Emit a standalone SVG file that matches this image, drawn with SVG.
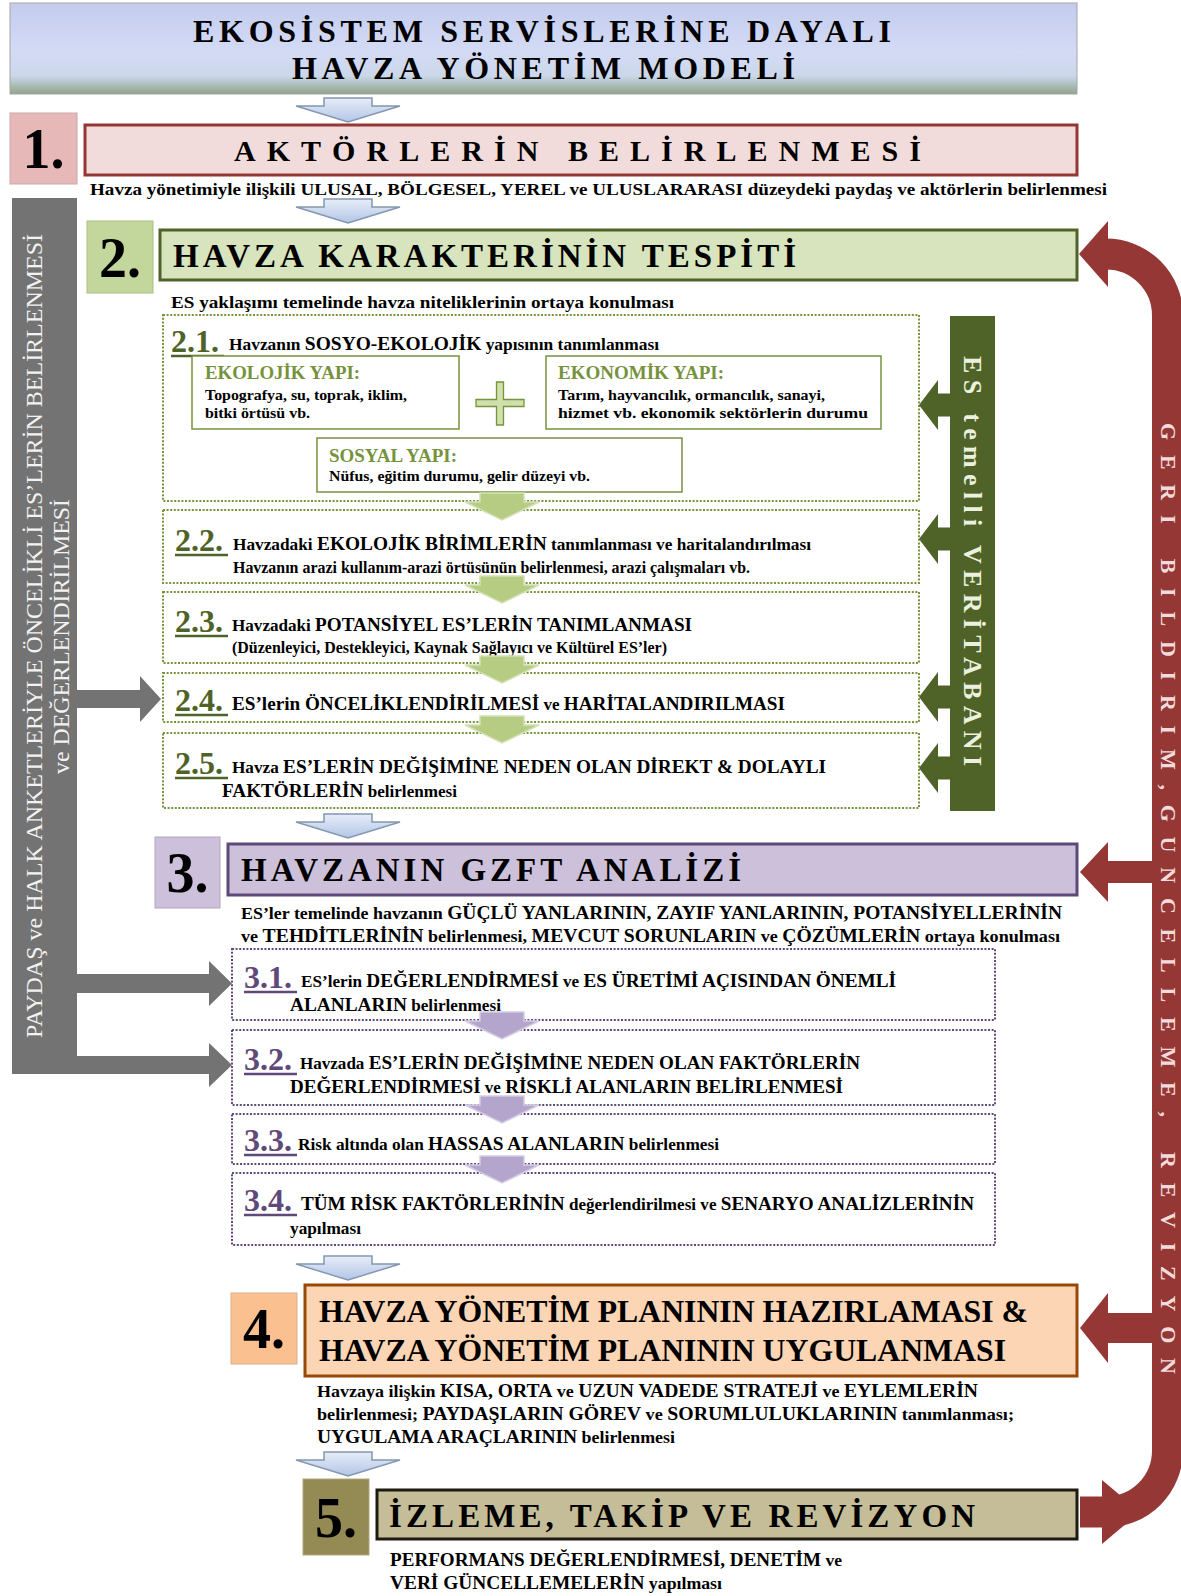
<svg xmlns="http://www.w3.org/2000/svg" width="1181" height="1596" viewBox="0 0 1181 1596">
<defs>
  <linearGradient id="gTitle" x1="0" y1="0" x2="0" y2="1">
    <stop offset="0" stop-color="#c4ccee"/>
    <stop offset="0.55" stop-color="#d3dbf5"/>
    <stop offset="0.8" stop-color="#ccd7ea"/>
    <stop offset="1" stop-color="#8ea58b"/>
  </linearGradient>
  <linearGradient id="gBlue" x1="0" y1="0" x2="0" y2="1">
    <stop offset="0" stop-color="#e6edf8"/>
    <stop offset="1" stop-color="#b3c5e6"/>
  </linearGradient>
  <path id="blueArrow" d="M-24,0 H24 V8 H52 L0,24 L-52,8 H-24 Z"/>
  <path id="smallArrow" d="M-22,0 H22 V9 H37 L0,27 L-37,9 H-22 Z"/>
  <path id="esArrow" d="M0,0 L19,-25 V-11.5 H31 V11.5 H19 V25 Z"/>
</defs>
<style>
  text { font-family: "Liberation Serif", "Times New Roman", serif; font-weight: bold; fill: #000; }
  .num { font-size: 56px; text-anchor: middle; }
  .head { font-size: 33px; }
  .desc { font-size: 17px; }
  .s { font-size: 16.5px; }
  .l { font-size: 18.5px; }
  .m { font-size: 17px; }
  .n2 { font-size: 32px; fill: #4f6228; }
  .n3 { font-size: 32px; fill: #5f497a; }
  .u2 { stroke: #4f6228; stroke-width: 2.5; }
  .u3 { stroke: #5f497a; stroke-width: 2.5; }
  .dot2 { fill: #fff; stroke: #77933c; stroke-width: 2; stroke-dasharray: 2 1.6; }
  .dot3 { fill: #fff; stroke: #604a7b; stroke-width: 2; stroke-dasharray: 2 1.6; }
  .sub { fill: #fff; stroke: #77933c; stroke-width: 1.5; }
  .subh { font-size: 18px; fill: #76923c; }
  .subt { font-size: 14.5px; }
  .blue { fill: url(#gBlue); stroke: #8497b0; stroke-width: 1.5; }
  .green { fill: #b5cc82; stroke: #d3e1b5; stroke-width: 1.5; }
  .purple { fill: #b3a5cb; stroke: #d6cde4; stroke-width: 1.5; }
  .gray { fill: #737373; }
  .red { fill: #953735; }
  .esar { fill: #4f6228; }
</style>

<!-- Title -->
<g id="title">
  <rect x="10" y="3" width="1067" height="91" fill="url(#gTitle)" stroke="#a5a5a5"/>
  <text x="193" y="42" font-size="32" textLength="698" lengthAdjust="spacing">EKOSİSTEM SERVİSLERİNE DAYALI</text>
  <text x="292" y="79" font-size="32" textLength="503" lengthAdjust="spacing">HAVZA YÖNETİM MODELİ</text>
</g>

<!-- Gray side bar -->
<g id="stakeholder-bar">
  <rect class="gray" x="12" y="198" width="65" height="876"/>
  <text transform="translate(41.5,1038) rotate(-90)" font-size="23" style="font-weight:normal;fill:#f2f2f2" textLength="804" lengthAdjust="spacingAndGlyphs">PAYDAŞ ve HALK ANKETLERİYLE ÖNCELİKLİ ES’LERİN BELİRLENMESİ</text>
  <text transform="translate(68.5,774) rotate(-90)" font-size="23" style="font-weight:normal;fill:#f2f2f2" textLength="275" lengthAdjust="spacingAndGlyphs">ve DEĞERLENDİRİLMESİ</text>
</g>

<!-- Step 1 -->
<g id="step1">
  <rect x="10" y="113" width="67" height="71" fill="#e6b9b8" stroke="#c9a9a8"/>
  <text class="num" x="43.5" y="168">1.</text>
  <rect x="85" y="125" width="992" height="50" fill="#f2dcdb" stroke="#953735" stroke-width="3"/>
  <text x="234" y="161" font-size="30" textLength="687" lengthAdjust="spacing">AKTÖRLERİN BELİRLENMESİ</text>
  <text class="desc" x="90" y="195" textLength="1017" lengthAdjust="spacingAndGlyphs">Havza yönetimiyle ilişkili ULUSAL, BÖLGESEL, YEREL ve ULUSLARARASI düzeydeki paydaş ve aktörlerin belirlenmesi</text>
</g>

<!-- Step 2 -->
<g id="step2">
  <rect x="87" y="221" width="66" height="72" fill="#c3d69b" stroke="#aabf80"/>
  <text class="num" x="120" y="277">2.</text>
  <rect x="160" y="230" width="917" height="50" fill="#d7e4bd" stroke="#4f6228" stroke-width="3"/>
  <text class="head" x="173" y="267" textLength="623" lengthAdjust="spacing">HAVZA KARAKTERİNİN TESPİTİ</text>
  <text class="desc" x="171" y="308" textLength="503" lengthAdjust="spacingAndGlyphs">ES yaklaşımı temelinde havza niteliklerinin ortaya konulması</text>
</g>

<g id="step2-1">
  <rect class="dot2" x="163" y="315" width="756" height="186"/>
  <text class="n2" x="171" y="352">2.1.</text>
  <line class="u2" x1="171" y1="356" x2="224" y2="356"/>
  <text x="229" y="350" textLength="430" lengthAdjust="spacingAndGlyphs"><tspan class="s">Havzanın </tspan><tspan class="l">SOSYO-EKOLOJİK</tspan><tspan class="s"> yapısının tanımlanması</tspan></text>
  <g id="ekolojik">
    <rect class="sub" x="192" y="356" width="267" height="73"/>
    <text class="subh" x="205" y="379" textLength="155" lengthAdjust="spacingAndGlyphs">EKOLOJİK YAPI:</text>
    <text class="subt" x="205" y="400" textLength="202" lengthAdjust="spacingAndGlyphs">Topografya, su, toprak, iklim,</text>
    <text class="subt" x="205" y="418" textLength="105" lengthAdjust="spacingAndGlyphs">bitki örtüsü vb.</text>
  </g>
  <path id="plus" d="M496.5,382 H503.5 V399.5 H524 V406.5 H503.5 V425 H496.5 V406.5 H476 V399.5 H496.5 Z" fill="#d0e0ac" stroke="#77933c" stroke-width="1.3"/>
  <g id="ekonomik">
    <rect class="sub" x="546" y="356" width="335" height="73"/>
    <text class="subh" x="558" y="379" textLength="166" lengthAdjust="spacingAndGlyphs">EKONOMİK YAPI:</text>
    <text class="subt" x="558" y="400" textLength="267" lengthAdjust="spacingAndGlyphs">Tarım, hayvancılık, ormancılık, sanayi,</text>
    <text class="subt" x="558" y="418" textLength="310" lengthAdjust="spacingAndGlyphs">hizmet  vb. ekonomik sektörlerin durumu</text>
  </g>
  <g id="sosyal">
    <rect class="sub" x="317" y="438" width="365" height="54"/>
    <text class="subh" x="329" y="462" textLength="128" lengthAdjust="spacingAndGlyphs">SOSYAL YAPI:</text>
    <text class="subt" x="329" y="481" textLength="261" lengthAdjust="spacingAndGlyphs">Nüfus, eğitim durumu, gelir düzeyi vb.</text>
  </g>
</g>

<g id="step2-2">
  <rect class="dot2" x="163" y="510" width="756" height="73"/>
  <text class="n2" x="175" y="551">2.2.</text>
  <line class="u2" x1="175" y1="555" x2="228" y2="555"/>
  <text x="233" y="550" textLength="578" lengthAdjust="spacingAndGlyphs"><tspan class="s">Havzadaki </tspan><tspan class="l">EKOLOJİK BİRİMLERİN</tspan><tspan class="s"> tanımlanması ve haritalandırılması</tspan></text>
  <text class="s" x="233" y="573" textLength="517" lengthAdjust="spacingAndGlyphs">Havzanın arazi kullanım-arazi örtüsünün belirlenmesi, arazi çalışmaları vb.</text>
</g>

<g id="step2-3">
  <rect class="dot2" x="163" y="592" width="756" height="71"/>
  <text class="n2" x="175" y="632">2.3.</text>
  <line class="u2" x1="175" y1="636" x2="228" y2="636"/>
  <text x="232" y="631" textLength="460" lengthAdjust="spacingAndGlyphs"><tspan class="s">Havzadaki </tspan><tspan class="l">POTANSİYEL ES’LERİN TANIMLANMASI</tspan></text>
  <text class="s" x="232" y="653" textLength="435" lengthAdjust="spacingAndGlyphs">(Düzenleyici, Destekleyici, Kaynak Sağlayıcı ve Kültürel ES’ler)</text>
</g>

<g id="step2-4">
  <rect class="dot2" x="163" y="673" width="756" height="49"/>
  <text class="n2" x="175" y="711">2.4.</text>
  <line class="u2" x1="175" y1="715" x2="228" y2="715"/>
  <text x="232" y="710" textLength="553" lengthAdjust="spacingAndGlyphs"><tspan class="l">ES’lerin ÖNCELİKLENDİRİLMESİ</tspan><tspan class="s"> ve </tspan><tspan class="l">HARİTALANDIRILMASI</tspan></text>
</g>

<g id="step2-5">
  <rect class="dot2" x="163" y="733" width="756" height="75"/>
  <text class="n2" x="175" y="774">2.5.</text>
  <line class="u2" x1="175" y1="778" x2="228" y2="778"/>
  <text x="232" y="773" textLength="594" lengthAdjust="spacingAndGlyphs"><tspan class="s">Havza </tspan><tspan class="l">ES’LERİN DEĞİŞİMİNE NEDEN  OLAN DİREKT &amp; DOLAYLI</tspan></text>
  <text x="222" y="797" textLength="235" lengthAdjust="spacingAndGlyphs"><tspan class="l">FAKTÖRLERİN</tspan><tspan class="s"> belirlenmesi</tspan></text>
</g>

<g id="es-database">
  <rect x="950" y="316" width="45" height="495" fill="#4f6228"/>
  <text transform="translate(963.5,356) rotate(90)" font-size="26" style="fill:#ebf1de" textLength="410" lengthAdjust="spacing">ES temelli VERİTABANI</text>
</g>

<!-- Step 3 -->
<g id="step3">
  <rect x="155" y="837" width="65" height="71" fill="#ccc0da" stroke="#b3a6c4"/>
  <text class="num" x="187.5" y="892">3.</text>
  <rect x="228" y="844" width="849" height="51" fill="#ccc0da" stroke="#5f497a" stroke-width="3"/>
  <text class="head" x="241" y="881" textLength="500" lengthAdjust="spacing">HAVZANIN GZFT ANALİZİ</text>
  <text x="241" y="919" textLength="821" lengthAdjust="spacingAndGlyphs"><tspan class="m">ES’ler temelinde havzanın </tspan><tspan class="l">GÜÇLÜ YANLARININ, ZAYIF YANLARININ, POTANSİYELLERİNİN</tspan></text>
  <text x="241" y="942" textLength="819" lengthAdjust="spacingAndGlyphs"><tspan class="m">ve </tspan><tspan class="l">TEHDİTLERİNİN</tspan><tspan class="m"> belirlenmesi, </tspan><tspan class="l">MEVCUT SORUNLARIN</tspan><tspan class="m"> ve </tspan><tspan class="l">ÇÖZÜMLERİN</tspan><tspan class="m"> ortaya konulması</tspan></text>
</g>

<g id="step3-1">
  <rect class="dot3" x="232" y="949" width="763" height="71"/>
  <text class="n3" x="244" y="988">3.1.</text>
  <line class="u3" x1="244" y1="992" x2="297" y2="992"/>
  <text x="301" y="987" textLength="595" lengthAdjust="spacingAndGlyphs"><tspan class="s">ES’lerin </tspan><tspan class="l">DEĞERLENDİRMESİ</tspan><tspan class="s"> ve </tspan><tspan class="l">ES ÜRETİMİ AÇISINDAN ÖNEMLİ</tspan></text>
  <text x="290" y="1011" textLength="211" lengthAdjust="spacingAndGlyphs"><tspan class="l">ALANLARIN</tspan><tspan class="s"> belirlenmesi</tspan></text>
</g>

<g id="step3-2">
  <rect class="dot3" x="232" y="1030" width="763" height="75"/>
  <text class="n3" x="244" y="1070">3.2.</text>
  <line class="u3" x1="244" y1="1074" x2="297" y2="1074"/>
  <text x="300" y="1069" textLength="560" lengthAdjust="spacingAndGlyphs"><tspan class="s">Havzada </tspan><tspan class="l">ES’LERİN DEĞİŞİMİNE NEDEN OLAN FAKTÖRLERİN</tspan></text>
  <text x="290" y="1093" textLength="553" lengthAdjust="spacingAndGlyphs"><tspan class="l">DEĞERLENDİRMESİ</tspan><tspan class="s"> ve </tspan><tspan class="l">RİSKLİ ALANLARIN BELİRLENMESİ</tspan></text>
</g>

<g id="step3-3">
  <rect class="dot3" x="232" y="1114" width="763" height="50"/>
  <text class="n3" x="244" y="1151">3.3.</text>
  <line class="u3" x1="244" y1="1155" x2="297" y2="1155"/>
  <text x="298" y="1150" textLength="421" lengthAdjust="spacingAndGlyphs"><tspan class="s">Risk altında olan </tspan><tspan class="l">HASSAS ALANLARIN</tspan><tspan class="s"> belirlenmesi</tspan></text>
</g>

<g id="step3-4">
  <rect class="dot3" x="232" y="1173" width="763" height="72"/>
  <text class="n3" x="244" y="1211">3.4.</text>
  <line class="u3" x1="244" y1="1215" x2="297" y2="1215"/>
  <text x="301" y="1210" textLength="673" lengthAdjust="spacingAndGlyphs"><tspan class="l">TÜM RİSK FAKTÖRLERİNİN</tspan><tspan class="s"> değerlendirilmesi ve </tspan><tspan class="l">SENARYO ANALİZLERİNİN</tspan></text>
  <text class="s" x="290" y="1234" textLength="71" lengthAdjust="spacingAndGlyphs">yapılması</text>
</g>

<!-- Step 4 -->
<g id="step4">
  <rect x="231" y="1293" width="66" height="71" fill="#fac090" stroke="#d9b08d"/>
  <text class="num" x="264" y="1348">4.</text>
  <rect x="305" y="1285" width="772" height="91" fill="#fcd5b4" stroke="#984807" stroke-width="3"/>
  <text x="319" y="1322" font-size="31.5" textLength="709" lengthAdjust="spacingAndGlyphs">HAVZA YÖNETİM PLANININ HAZIRLAMASI &amp;</text>
  <text x="319" y="1361" font-size="31.5" textLength="687" lengthAdjust="spacingAndGlyphs">HAVZA YÖNETİM PLANININ UYGULANMASI</text>
  <text x="317" y="1397" textLength="661" lengthAdjust="spacingAndGlyphs"><tspan class="m">Havzaya ilişkin </tspan><tspan class="l">KISA, ORTA</tspan><tspan class="m"> ve </tspan><tspan class="l">UZUN VADEDE STRATEJİ</tspan><tspan class="m"> ve  </tspan><tspan class="l">EYLEMLERİN</tspan></text>
  <text x="317" y="1420" textLength="697" lengthAdjust="spacingAndGlyphs"><tspan class="m">belirlenmesi;  </tspan><tspan class="l">PAYDAŞLARIN GÖREV</tspan><tspan class="m"> ve </tspan><tspan class="l">SORUMLULUKLARININ</tspan><tspan class="m"> tanımlanması;</tspan></text>
  <text x="317" y="1443" textLength="358" lengthAdjust="spacingAndGlyphs"><tspan class="l">UYGULAMA ARAÇLARININ</tspan><tspan class="m"> belirlenmesi</tspan></text>
</g>

<!-- Step 5 -->
<g id="step5">
  <rect x="303" y="1479" width="66" height="76" fill="#948a54" stroke="#b0a77a"/>
  <text class="num" x="336" y="1537">5.</text>
  <rect x="377" y="1490" width="700" height="49" fill="#c4bd97" stroke="#1d1b10" stroke-width="3"/>
  <text class="head" x="389" y="1527" textLength="586" lengthAdjust="spacing">İZLEME, TAKİP VE REVİZYON</text>
  <text x="390" y="1566" textLength="452" lengthAdjust="spacingAndGlyphs"><tspan class="l">PERFORMANS DEĞERLENDİRMESİ, DENETİM</tspan><tspan class="m"> ve</tspan></text>
  <text x="390" y="1589" textLength="332" lengthAdjust="spacingAndGlyphs"><tspan class="l">VERİ GÜNCELLEMELERİN</tspan><tspan class="m"> yapılması</tspan></text>
</g>

<!-- Connectors -->
<g id="connectors">
  <use href="#blueArrow" class="blue" x="348" y="98"/>
  <use href="#blueArrow" class="blue" x="348" y="199"/>
  <use href="#blueArrow" class="blue" x="348" y="814"/>
  <use href="#blueArrow" class="blue" x="348" y="1256"/>
  <use href="#blueArrow" class="blue" x="348" y="1452"/>

  <use href="#smallArrow" class="green" x="502" y="493"/>
  <use href="#smallArrow" class="green" x="502" y="576"/>
  <use href="#smallArrow" class="green" x="502" y="656"/>
  <use href="#smallArrow" class="green" x="502" y="716"/>

  <use href="#smallArrow" class="purple" x="502" y="1012"/>
  <use href="#smallArrow" class="purple" x="502" y="1096"/>
  <use href="#smallArrow" class="purple" x="502" y="1156"/>

  <use href="#esArrow" class="esar" x="919" y="405"/>
  <use href="#esArrow" class="esar" x="919" y="539"/>
  <use href="#esArrow" class="esar" x="919" y="697"/>
  <use href="#esArrow" class="esar" x="919" y="768"/>

  <path class="gray" d="M77,690 H140 V676 L161,699 L140,722 V708 H77 Z"/>
  <path class="gray" d="M77,974 H209 V961 L232,983.5 L209,1006 V993 H77 Z"/>
  <path class="gray" d="M77,1056 H209 V1043 L232,1065 L209,1087 V1074 H77 Z"/>

  <g id="feedback">
    <path d="M1080,1512 H1106 A61.5,61.5 0 0 0 1167.5,1450.5 V315.5 A61.5,61.5 0 0 0 1106,254 H1100" fill="none" stroke="#953735" stroke-width="31"/>
    <polygon class="red" points="1079,254 1108,221 1108,287"/>
    <path class="red" d="M1160,861 H1108 V842 L1080,872 L1108,902 V883 H1160 Z"/>
    <path class="red" d="M1160,1313 H1108 V1293 L1080,1328 L1108,1363 V1343 H1160 Z"/>
    <polygon class="red" points="1102,1480 1140,1512 1102,1544"/>
    <text transform="translate(1160.5,423) rotate(90)" font-size="22" style="fill:#f2dcdb" textLength="951" lengthAdjust="spacing">GERI BILDIRIM,GUNCELLEME, REVIZYON</text>
  </g>
</g>
</svg>
